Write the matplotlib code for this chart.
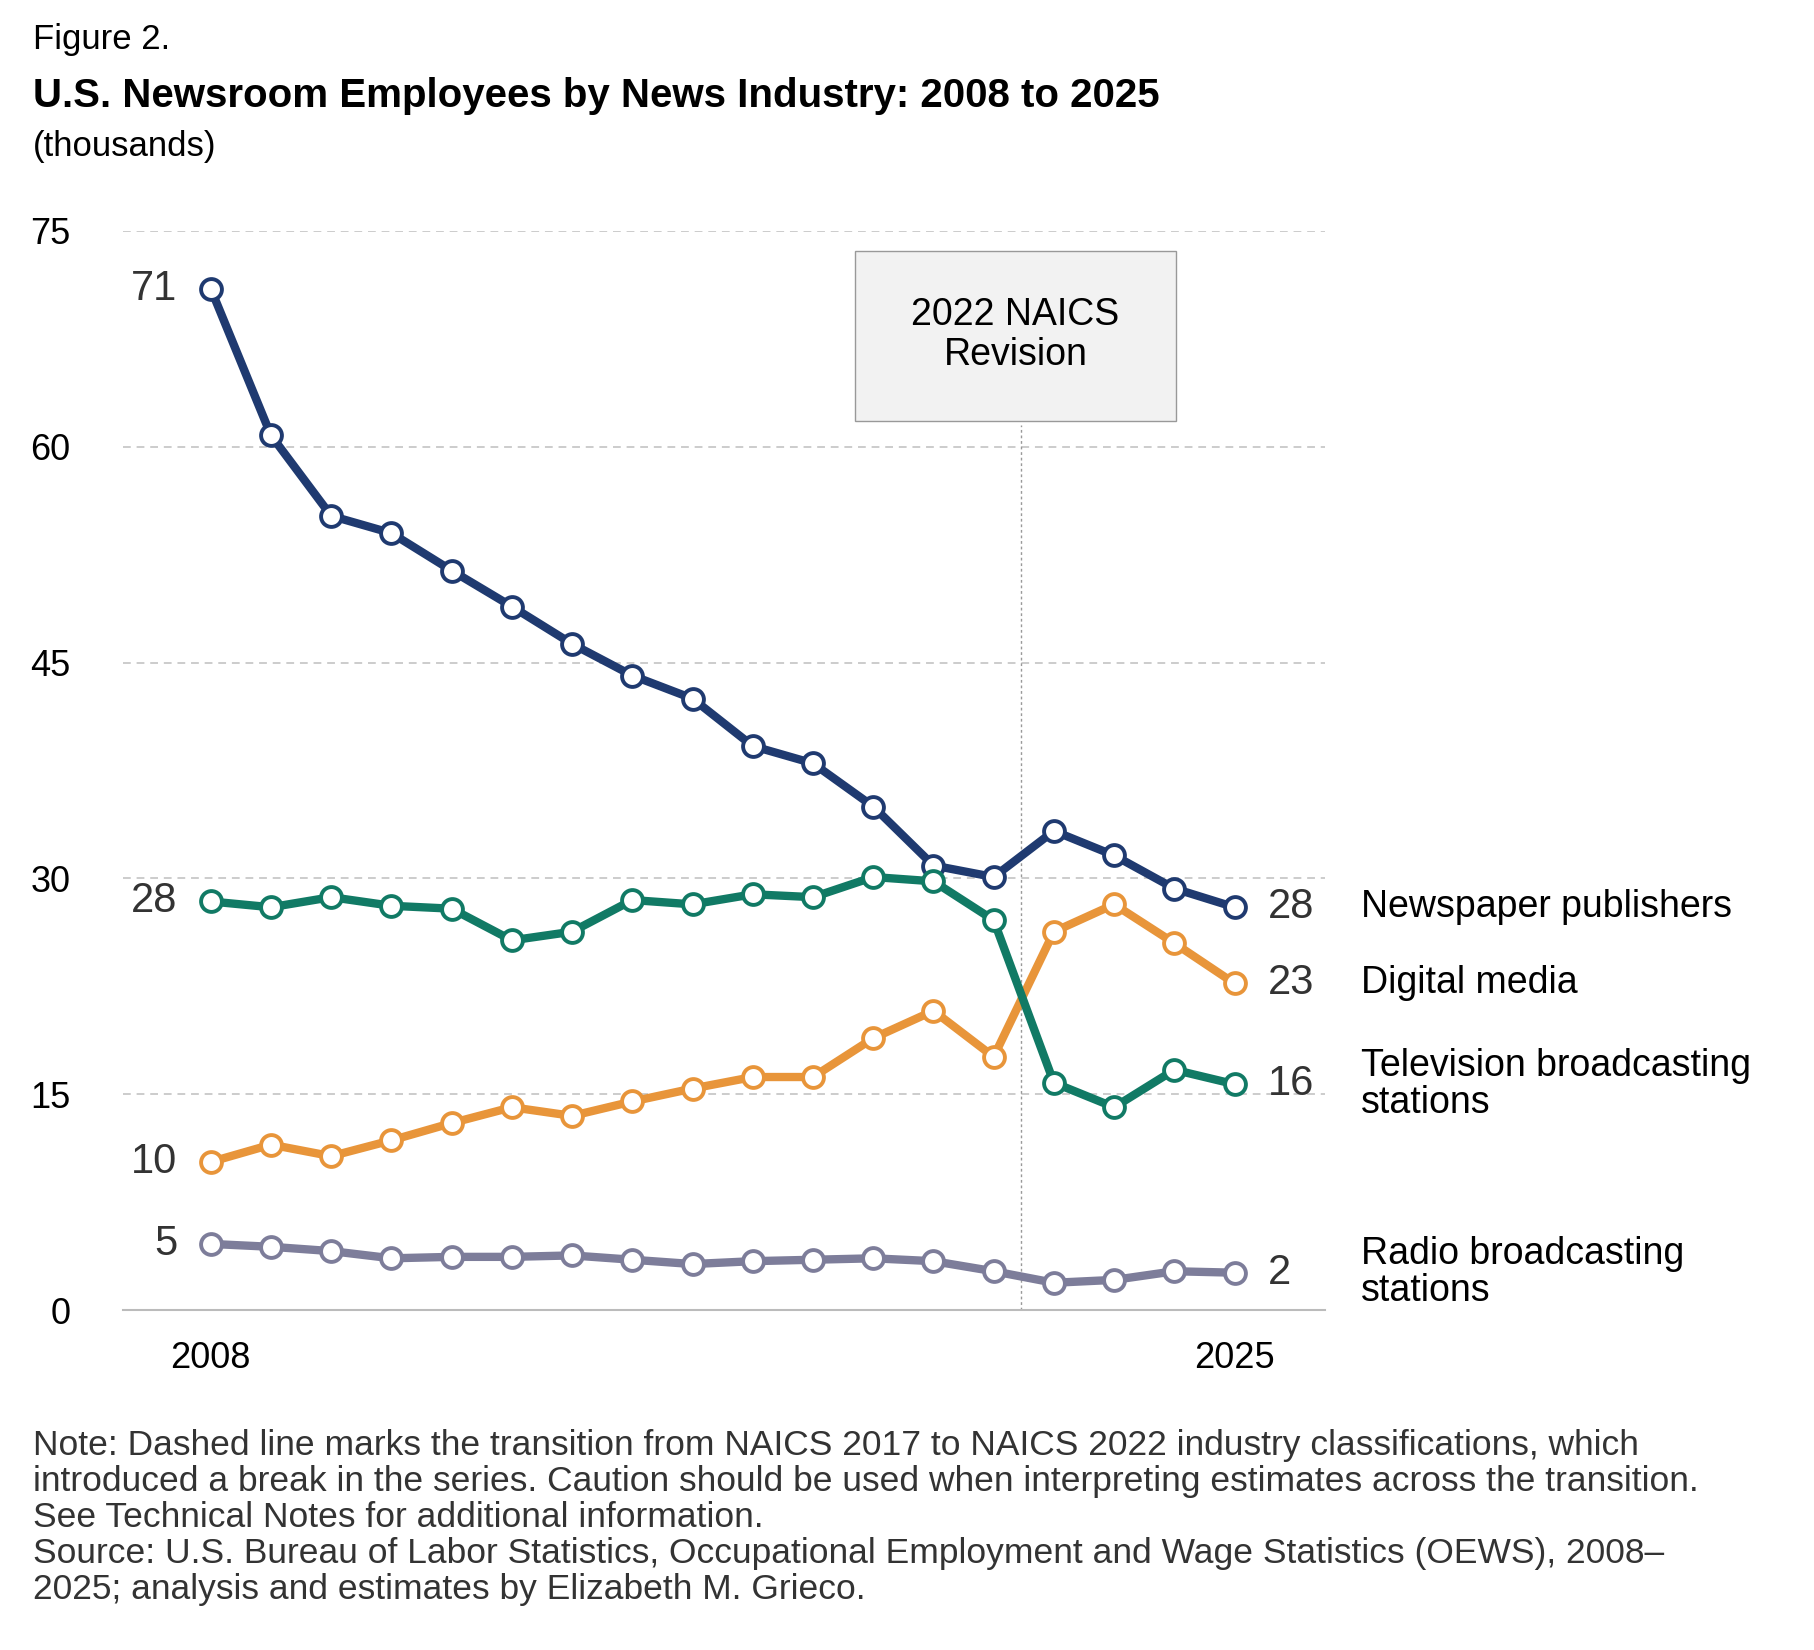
import matplotlib
matplotlib.use("Agg")
import matplotlib.pyplot as plt
from matplotlib.patches import Rectangle

plt.rcParams['font.family'] = ['Liberation Sans', 'DejaVu Sans']

years = list(range(2008, 2026))
newspaper = [71.0, 60.8, 55.2, 54.0, 51.4, 48.9, 46.3, 44.1, 42.5, 39.2, 38.0, 35.0, 30.9, 30.1, 33.3, 31.6, 29.3, 28.0]
television = [28.4, 28.0, 28.7, 28.1, 27.9, 25.7, 26.3, 28.5, 28.2, 28.9, 28.7, 30.1, 29.8, 27.1, 15.8, 14.1, 16.7, 15.7]
digital = [10.3, 11.5, 10.7, 11.8, 13.0, 14.1, 13.5, 14.5, 15.4, 16.2, 16.2, 18.9, 20.8, 17.6, 26.3, 28.2, 25.5, 22.7]
radio = [4.6, 4.4, 4.1, 3.6, 3.7, 3.7, 3.8, 3.5, 3.2, 3.4, 3.5, 3.6, 3.4, 2.7, 1.9, 2.1, 2.7, 2.6]
names = ["Newspaper publishers", "Digital media", "Television broadcasting\nstations", "Radio broadcasting\nstations"]
start_labels = ["71", "10", "28", "5"]
end_labels = ["28", "23", "16", "2"]
series = [newspaper, digital, television, radio]
colors = ["#1f3a70", "#e8953a", "#117a65", "#7d7d9a"]
yticks = [0, 15, 30, 45, 60, 75]
break_x = 2021.45

fig = plt.figure(figsize=(18.15, 16.5), dpi=100)
ax = fig.add_axes([0.068, 0.206, 0.662, 0.654])
ax.set_xlim(2006.55, 2026.5)
ax.set_ylim(0, 75)
for s in ['top', 'right', 'left']:
    ax.spines[s].set_visible(False)
ax.spines['bottom'].set_color('#bbbbbb')
ax.spines['bottom'].set_linewidth(1.5)
ax.set_yticks(yticks)
ax.set_yticklabels([str(v) for v in yticks], fontsize=26)
ax.tick_params(axis='y', length=0, pad=38)
ax.set_xticks([2008, 2025])
ax.set_xticklabels(["2008", "2025"], fontsize=26)
ax.tick_params(axis='x', length=0, pad=22)
for v in yticks[1:]:
    ax.axhline(v, color='#cccccc', ls=(0, (4, 3)), lw=1.4, zorder=0)
ax.axvline(break_x, ymax=61.5/75, color='#999999', ls=(0, (2, 2)), lw=1, zorder=1)

for vals, c in zip(series, colors):
    ax.plot(years, vals, color=c, lw=6, marker='o', ms=15, mfc='white', mec=c, mew=2.8, zorder=3, clip_on=False)

for vals, sl, el in zip(series, start_labels, end_labels):
    ax.text(years[0] - 0.55, vals[0], sl, fontsize=30, color='#333333', ha='right', va='center')
    ax.text(years[-1] + 0.55, vals[-1], el, fontsize=30, color='#333333', ha='left', va='center')

name_y = [28.0, 22.7, 15.7, 2.6]
for n, yv in zip(names, name_y):
    ax.text(2027.1, yv, n, fontsize=27, ha='left', va='center', linespacing=1.05)

fig.patches.append(Rectangle((0.471, 0.745), 0.177, 0.103, transform=fig.transFigure,
                             facecolor='#f2f2f2', edgecolor='#999999', lw=1))
fig.text(0.5595, 0.797, "2022 NAICS\nRevision", fontsize=27, ha='center', va='center', linespacing=1.15)

fig.text(0.018, 0.976, "Figure 2.", fontsize=25, va='center')
fig.text(0.018, 0.942, "U.S. Newsroom Employees by News Industry: 2008 to 2025", fontsize=29, fontweight='bold', va='center')
fig.text(0.018, 0.911, "(thousands)", fontsize=25, va='center')
note = ("Note: Dashed line marks the transition from NAICS 2017 to NAICS 2022 industry classifications, which\n"
        "introduced a break in the series. Caution should be used when interpreting estimates across the transition.\n"
        "See Technical Notes for additional information.\n"
        "Source: U.S. Bureau of Labor Statistics, Occupational Employment and Wage Statistics (OEWS), 2008\u2013\n"
        "2025; analysis and estimates by Elizabeth M. Grieco.")
fig.text(0.018, 0.134, note, fontsize=25.5, va='top', color='#333333', linespacing=1.12)

fig.savefig("out.png", dpi=100)
